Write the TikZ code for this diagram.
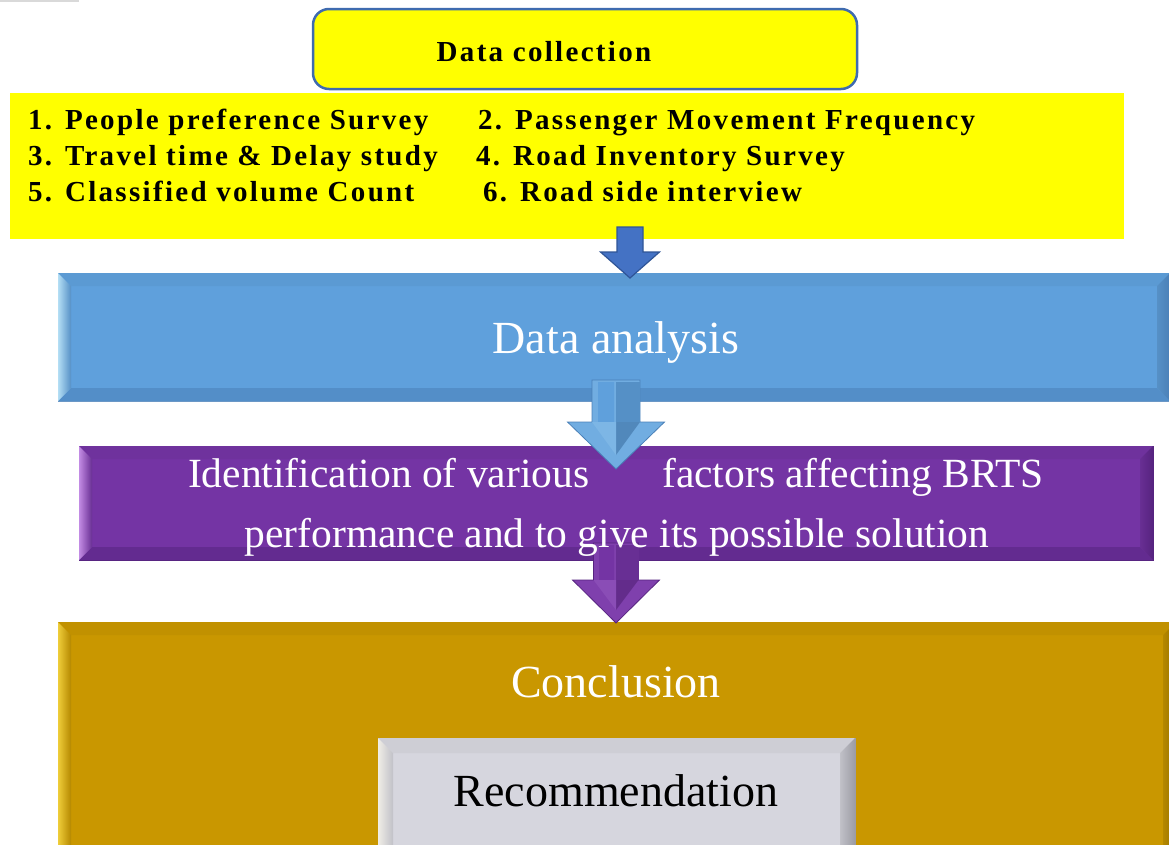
\documentclass[tikz,border=0pt]{standalone}
\usepackage{fontspec}
\setmainfont{Liberation Serif}
\newfontfamily\listfont[LetterSpace=8]{Liberation Serif}
\usetikzlibrary{calc}

\definecolor{boxyellow}{HTML}{FFFF00}
\definecolor{collectline}{HTML}{3F6BAF}
\definecolor{arrowblue}{HTML}{4472C4}
\definecolor{arrowblueline}{HTML}{2F5597}
\definecolor{anablue}{HTML}{5FA0DC}
\definecolor{analight}{HTML}{D8F8FF}
\definecolor{anadark}{HTML}{4A80B8}
\definecolor{factpurple}{HTML}{7434A4}
\definecolor{factlight}{HTML}{E4B0FF}
\definecolor{factdark}{HTML}{56237F}
\definecolor{concgold}{HTML}{C99700}
\definecolor{conclight}{HTML}{FFE452}
\definecolor{concdark}{HTML}{957000}
\definecolor{recgray}{HTML}{D6D6DE}
\definecolor{reclight}{HTML}{FAF7EA}
\definecolor{recdark}{HTML}{9C9CA4}

% bevelled edge of a box: node, width, light, base, dark
\newcommand{\bevelframe}[5]{%
  \fill[#4!96!black] (#1.north west) -- (#1.north east) -- ($(#1.north east)+(-#2,#2)$) -- ($(#1.north west)+(#2,#2)$) -- cycle;
  \fill[#5!55!#4] (#1.south west) -- (#1.south east) -- ($(#1.south east)+(-#2,-#2)$) -- ($(#1.south west)+(#2,-#2)$) -- cycle;
  \shade[left color=#3!70!#4, middle color=#3, right color=#4!90!black] (#1.north west) -- ($(#1.north west)+(#2,#2)$) -- ($(#1.south west)+(#2,-#2)$) -- (#1.south west) -- cycle;
  \shade[left color=#4!90!black, middle color=#3, right color=#5] (#1.north east) -- ($(#1.north east)+(-#2,#2)$) -- ($(#1.south east)+(-#2,-#2)$) -- (#1.south east) -- cycle;
}

\begin{document}
\begin{tikzpicture}
	[x=1pt,y=-1pt,
	box/.style={rectangle,inner sep=0pt,outer sep=0pt},
	listtext/.style={anchor=base west,inner sep=0pt,font={\fontsize{29}{34}\listfont\bfseries}},
	bigtext/.style={anchor=base,inner sep=0pt,text=white,font={\fontsize{46}{55}\selectfont}},
	facttext/.style={anchor=base,inner sep=0pt,text=white,font={\fontsize{41.5}{50}\selectfont}},
	flatarrow/.style={fill=arrowblue,draw=arrowblueline,line width=1.2pt,line join=miter},
	bluearrow/.style={fill=anablue!85!analight,draw=anadark,line width=0.8pt},
	purplearrow/.style={fill=factpurple!90!factlight,draw=factdark,line width=0.8pt}]
	\clip (0,0) rectangle (1169,844);
	\draw[gray!30,line width=1.5pt] (0,0.75) -- (79,0.75);

	% data collection
	\node[box,fill=boxyellow,minimum width=1114pt,minimum height=146pt] (list) at (567,166) {};
	\node[box,fill=boxyellow,draw=collectline,line width=2.5pt,rounded corners=16pt,
		minimum width=544pt,minimum height=80pt] (collect) at (585,49) {};
	\node[listtext,anchor=base] (collectt) at (544,61) {Data collection};
	\node[listtext] (item1) at (28,129) {1. People preference Survey};
	\node[listtext] (item2) at (478,129) {2. Passenger Movement Frequency};
	\node[listtext] (item3) at (28,165) {3. Travel time \& Delay study};
	\node[listtext] (item4) at (476,165) {4. Road Inventory Survey};
	\node[listtext] (item5) at (28,201) {5. Classified volume Count};
	\node[listtext] (item6) at (483,201) {6. Road side interview};

	% bevelled boxes
	\node[box,fill=anablue,draw=anadark!80,minimum width=1112pt,minimum height=128pt] (analysis) at (614,337) {};
	\bevelframe{analysis}{13}{analight}{anablue}{anadark}
	\node[box,fill=factpurple,draw=factdark,minimum width=1074pt,minimum height=114pt] (factors) at (616,503) {};
	\bevelframe{factors}{13}{factlight}{factpurple}{factdark}
	\node[box,fill=concgold,draw=concdark,minimum width=1118pt,minimum height=248pt] (conclusion) at (617,746) {};
	\bevelframe{conclusion}{13}{conclight}{concgold}{concdark}
	\node[box,fill=recgray,draw=recdark,minimum width=477pt,minimum height=122pt] (recom) at (616.5,799) {};
	\bevelframe{recom}{15}{reclight}{recgray}{recdark}

	% arrows
	\coordinate (a1top) at (630,227);
	\coordinate (a1tip) at (630,278);
	\draw[flatarrow] (a1top) ++(-13,0) -- ++(0,25) -- ++(-16.5,0) -- (a1tip) -- ++(29.5,-26) -- ++(-16.5,0) -- ++(0,-25) -- cycle;

	\coordinate (a2top) at (616,380);
	\coordinate (a2tip) at (616,469);
	\draw[bluearrow] (a2top) ++(-24,0) -- ++(0,42) -- ++(-24.5,0) -- (a2tip) -- ++(48.5,-47) -- ++(-24.5,0) -- ++(0,-42) -- cycle;
	\shade[left color=anablue,middle color=analight,right color=anablue] ($(a2top)+(-18,2)$) rectangle ($(a2top)+(-2,42)$);
	\fill[anablue!90!black] ($(a2top)+(0,2)$) -- ($(a2top)+(0,42)$) -- ($(a2top)+(24,42)$) -- ($(a2top)+(24,2)$) -- cycle;
	\fill[anablue!85!black] ($(a2top)+(0,42)$) -- ($(a2tip)+(0,-14)$) -- ($(a2top)+(24,42)$) -- cycle;
	\fill[anablue!75!analight] ($(a2top)+(0,42)$) -- ($(a2tip)+(0,-14)$) -- ($(a2top)+(-24,42)$) -- cycle;

	\coordinate (a3top) at (616,543);
	\coordinate (a3tip) at (616,623);
	\draw[purplearrow] (a3top) ++(-22.5,0) -- ++(0,37) -- ++(-21,0) -- (a3tip) -- ++(43.5,-43) -- ++(-21,0) -- ++(0,-37) -- cycle;
	\shade[left color=factpurple,middle color=factlight,right color=factpurple] ($(a3top)+(-17,2)$) rectangle ($(a3top)+(-2,37)$);
	\fill[factpurple!90!black] ($(a3top)+(0,2)$) -- ($(a3top)+(0,37)$) -- ($(a3top)+(22.5,37)$) -- ($(a3top)+(22.5,2)$) -- cycle;
	\fill[factpurple!85!black] ($(a3top)+(0,37)$) -- ($(a3tip)+(0,-13)$) -- ($(a3top)+(22.5,37)$) -- cycle;
	\fill[factpurple!80!factlight] ($(a3top)+(0,37)$) -- ($(a3tip)+(0,-13)$) -- ($(a3top)+(-22.5,37)$) -- cycle;

	% texts
	\node[bigtext] (anat) at (616,353) {Data analysis};
	\node[facttext] (factA) at (616,487) {Identification of various\hspace{73pt}factors affecting BRTS};
	\node[facttext] (factB) at (617,547) {performance and to give its possible solution};
	\node[bigtext] (conclt) at (616,697) {Conclusion};
	\node[bigtext,text=black] (recomt) at (616,806) {Recommendation};
\end{tikzpicture}
\end{document}
